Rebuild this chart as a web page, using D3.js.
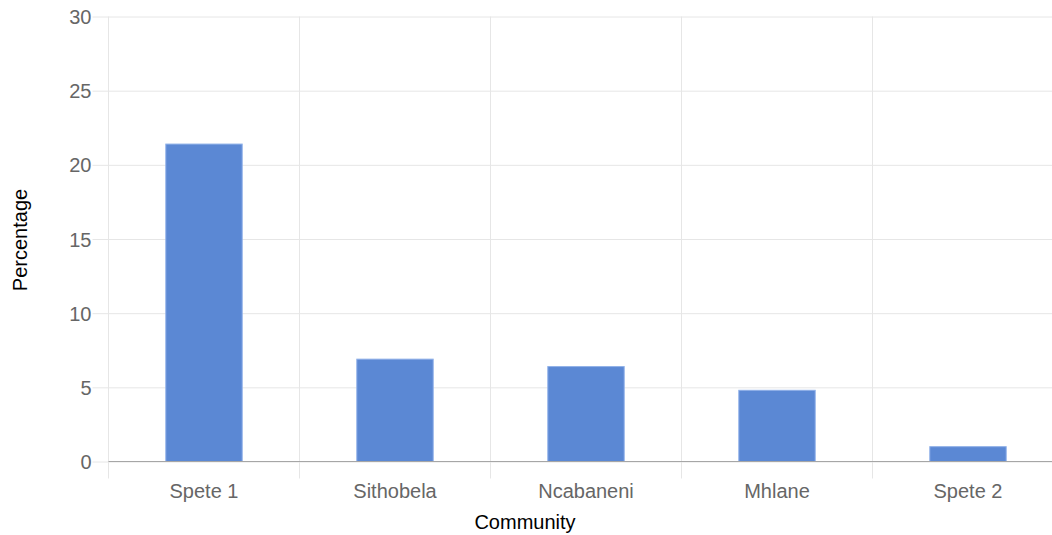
<!DOCTYPE html>
<html>
<head>
<meta charset="utf-8">
<script src="https://cdn.jsdelivr.net/npm/d3@7"></script>
<style>
  html, body { margin: 0; padding: 0; background: #fff; }
  svg { display: block; font-family: "Liberation Sans", Arial, sans-serif; }
</style>
</head>
<body>
<svg id="chart" width="1052" height="535"></svg>
<script>
// Share of respondents by community (%)
const categories = ["Spete 1", "Sithobela", "Ncabaneni", "Mhlane", "Spete 2"];
const percentages = [21.4, 6.9, 6.4, 4.8, 1.0];
const yTicks = [0, 5, 10, 15, 20, 25, 30];

const svg = d3.select("#chart");
const W = 1052, H = 535;
const plotLeft = 108.5, plotRight = 1063.5, plotTop = 16.5, plotBottom = 461.5;

const x = d3.scaleBand().domain(categories).range([plotLeft, plotRight]).paddingInner(0).paddingOuter(0);
const y = d3.scaleLinear().domain([0, 30]).range([plotBottom, plotTop]);

const gridColor = "#e6e6e6";

// horizontal grid lines with small tick stubs to the left
const yAxis = d3.axisLeft(y).tickValues(yTicks).tickSize(-(plotRight - plotLeft)).tickPadding(0).tickSizeOuter(0);
const gy = svg.append("g").attr("transform", `translate(${plotLeft},0)`).call(yAxis);
gy.select(".domain").remove();
gy.selectAll(".tick line").attr("stroke", gridColor).attr("x1", -16);
gy.selectAll(".tick text")
  .attr("x", -17).attr("fill", "#666").style("font-size", "20px").attr("dy", "0.35em");

// vertical grid lines at category boundaries, extended below the baseline
const bounds = categories.map(c => x(c));
svg.append("g").selectAll("line").data(bounds).join("line")
  .attr("x1", d => d).attr("x2", d => d)
  .attr("y1", plotTop).attr("y2", plotBottom + 17)
  .attr("stroke", gridColor).attr("stroke-width", 1);

// bars
const barW = x.bandwidth() * 0.4;
svg.append("g").selectAll("rect").data(percentages).join("rect")
  .attr("x", (d, i) => x(categories[i]) + (x.bandwidth() - barW) / 2)
  .attr("y", d => y(d))
  .attr("width", barW)
  .attr("height", d => y(0) - y(d))
  .attr("fill", "#5b88d4")
  .attr("stroke", "#8fb0e8")
  .attr("stroke-width", 1);

// baseline over the bars
svg.append("line")
  .attr("x1", plotLeft).attr("x2", W).attr("y1", y(0)).attr("y2", y(0))
  .attr("stroke", "#a6a6a6").attr("stroke-width", 1.2);

// category labels
const xAxis = d3.axisBottom(x).tickSize(0).tickPadding(0);
const gx = svg.append("g").attr("transform", `translate(0,${plotBottom})`).call(xAxis);
gx.select(".domain").remove();
gx.selectAll(".tick text")
  .attr("y", 29).attr("dy", "0.35em").attr("fill", "#666").style("font-size", "20px");

// axis titles
svg.append("text")
  .attr("x", 525).attr("y", 522)
  .attr("text-anchor", "middle").attr("dy", "0.35em")
  .attr("fill", "#000").style("font-size", "20px")
  .text("Community");

svg.append("text")
  .attr("transform", `translate(20,${(plotTop + plotBottom) / 2 + 1}) rotate(-90)`)
  .attr("text-anchor", "middle").attr("dy", "0.35em")
  .attr("fill", "#000").style("font-size", "20px")
  .text("Percentage");
</script>
</body>
</html>
